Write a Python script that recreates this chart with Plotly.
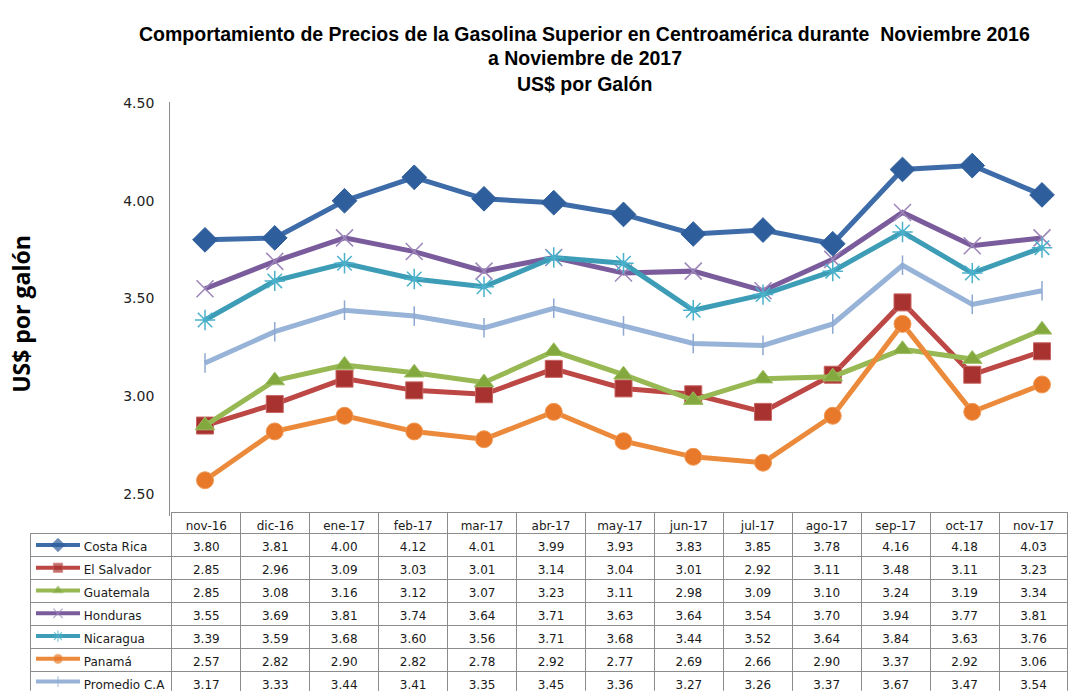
import plotly.graph_objects as go

W, H = 1071, 691

months = ["nov-16", "dic-16", "ene-17", "feb-17", "mar-17", "abr-17", "may-17",
          "jun-17", "jul-17", "ago-17", "sep-17", "oct-17", "nov-17"]

countries = ["Costa Rica", "El Salvador", "Guatemala", "Honduras",
             "Nicaragua", "Panamá", "Promedio C.A"]

costa_rica = [3.80, 3.81, 4.00, 4.12, 4.01, 3.99, 3.93, 3.83, 3.85, 3.78, 4.16, 4.18, 4.03]
el_salvador = [2.85, 2.96, 3.09, 3.03, 3.01, 3.14, 3.04, 3.01, 2.92, 3.11, 3.48, 3.11, 3.23]
guatemala = [2.85, 3.08, 3.16, 3.12, 3.07, 3.23, 3.11, 2.98, 3.09, 3.10, 3.24, 3.19, 3.34]
honduras = [3.55, 3.69, 3.81, 3.74, 3.64, 3.71, 3.63, 3.64, 3.54, 3.70, 3.94, 3.77, 3.81]
nicaragua = [3.39, 3.59, 3.68, 3.60, 3.56, 3.71, 3.68, 3.44, 3.52, 3.64, 3.84, 3.63, 3.76]
panama = [2.57, 2.82, 2.90, 2.82, 2.78, 2.92, 2.77, 2.69, 2.66, 2.90, 3.37, 2.92, 3.06]
promedio = [3.17, 3.33, 3.44, 3.41, 3.35, 3.45, 3.36, 3.27, 3.26, 3.37, 3.67, 3.47, 3.54]

series = [costa_rica, el_salvador, guatemala, honduras, nicaragua, panama, promedio]

title_lines = [
    "Comportamiento de Precios de la Gasolina Superior en Centroamérica durante  Noviembre 2016",
    "a Noviembre de 2017",
    "US$ por Galón",
]

# line colour, marker symbol, marker size, marker fill, marker outline
styles = [
    ("#3D6CA9", "diamond", 19, "#2E5E9C", "#2E5E9C"),
    ("#BC4744", "square", 17, "#A7322F", "#C86562"),
    ("#97B853", "triangle-up", 17, "#82A83E", "#9BBE5F"),
    ("#7A5C9C", "x-thin-open", 17, "#9D86BA", "#9D86BA"),
    ("#3D9DB6", "asterisk-open", 17, "#4BB1CB", "#4BB1CB"),
    ("#EC8A3C", "circle", 17, "#E8782A", "#F09A55"),
    ("#98B3D8", "line-ns-open", 14, "#8EA9D1", "#8EA9D1"),
]

TITLE_FONT = "Liberation Sans, Arial, sans-serif"
TABLE_FONT = "DejaVu Sans, Verdana, sans-serif"


def px_x(p):
    return p / W


def px_y(p):
    return (H - p) / H


fig = go.Figure()

# --- main line chart ---
for name, vals, (lc, sym, size, fill, outline) in zip(countries, series, styles):
    open_marker = sym.endswith("-open")
    fig.add_trace(go.Scatter(
        x=months, y=vals, name=name, mode="lines+markers",
        line=dict(color=lc, width=5),
        marker=dict(symbol=sym, size=size, color=fill,
                    line=dict(color=outline, width=1.5 if open_marker else 1)),
        showlegend=False,
    ))

# --- data table under the chart ---
header_vals = [""] + months
# non-breaking spaces keep the names on one line and leave room for the keys
cell_vals = [["\u00a0" * 12 + c.replace(" ", "\u00a0") for c in countries]] + [
    [f"{s[i]:.2f}" for s in series] for i in range(len(months))
]
grid = "#8C8C8C"

fig.add_trace(go.Table(
    domain=dict(x=[px_x(30), px_x(1068)], y=[0, px_y(511)]),
    columnwidth=[142] + [69] * len(months),
    header=dict(
        values=header_vals, height=21, align="center",
        fill_color=["rgba(0,0,0,0)"] + ["white"] * len(months),
        line=dict(color=["rgba(0,0,0,0)"] + [grid] * len(months), width=1),
        font=dict(family=TABLE_FONT, size=12, color="#1a1a1a"),
    ),
    cells=dict(
        values=cell_vals, height=23,
        align=["left"] + ["center"] * len(months),
        fill_color=["rgba(0,0,0,0)"] + ["white"] * len(months),
        line=dict(color=grid, width=1),
        font=dict(family=TABLE_FONT, size=12, color="#1a1a1a"),
    ),
))

# --- legend keys drawn in the first table column ---
for i, (name, (lc, sym, size, fill, outline)) in enumerate(zip(countries, styles)):
    open_marker = sym.endswith("-open")
    fig.add_trace(go.Scatter(
        x=[0, 1, 2], y=[i, i, i], mode="lines+markers",
        xaxis="x2", yaxis="y2", showlegend=False, hoverinfo="skip",
        line=dict(color=lc, width=4),
        marker=dict(symbol=sym, size=[0, size * 0.55, 0], color=fill,
                    line=dict(color=outline, width=1.2 if open_marker else 0.8)),
    ))

row_h = 23
body_top = 532
rows_visible = (H - body_top) / row_h

# categories in the chart sit a little wider apart than the table columns
cat_w = 69.75
first_x = 205
x_right = len(months) - 0.5 - (first_x - cat_w / 2 + cat_w * len(months) - W) / cat_w

fig.update_layout(
    width=W, height=H,
    margin=dict(l=0, r=0, t=0, b=0),
    paper_bgcolor="white", plot_bgcolor="white",
    xaxis=dict(
        domain=[px_x(first_x - cat_w / 2), 1],
        range=[-0.5, x_right],
        showticklabels=False, showgrid=False, zeroline=False, showline=False,
        fixedrange=True,
    ),
    yaxis=dict(
        domain=[px_y(514), px_y(96)],
        range=[2.5 - 22 / 197, 4.5 + 1 / 197],
        tick0=2.5, dtick=0.5, tickformat=".2f",
        showgrid=False, zeroline=False,
        showline=True, linecolor="#8C8C8C", linewidth=1,
        ticks="", ticklabelstandoff=12,
        tickfont=dict(family=TABLE_FONT, size=14, color="#222"),
        fixedrange=True,
    ),
    xaxis2=dict(
        domain=[px_x(36), px_x(80)], range=[0, 2], visible=False, fixedrange=True,
    ),
    yaxis2=dict(
        domain=[0, px_y(body_top)],
        range=[rows_visible - 0.5, -0.5], visible=False, fixedrange=True,
    ),
    annotations=[
        dict(text=line, showarrow=False, x=px_x(585), y=px_y(yc),
             xref="paper", yref="paper", xanchor="center", yanchor="middle",
             font=dict(family=TITLE_FONT, size=19.5, color="black", weight="bold"))
        for line, yc in zip(title_lines, [27, 52, 78])
    ] + [dict(
        text="US$ por galón", textangle=-90, showarrow=False,
        x=px_x(21), y=px_y(310), xref="paper", yref="paper",
        xanchor="center", yanchor="middle",
        font=dict(family="Open Sans, sans-serif", size=23, color="black", weight="bold"),
    )],
)

# drop the page's default body margin so the 1071x691 figure fills the window
fig.write_html("out.html", config={"displayModeBar": False},
               post_script="document.body.style.margin = '0px';")
